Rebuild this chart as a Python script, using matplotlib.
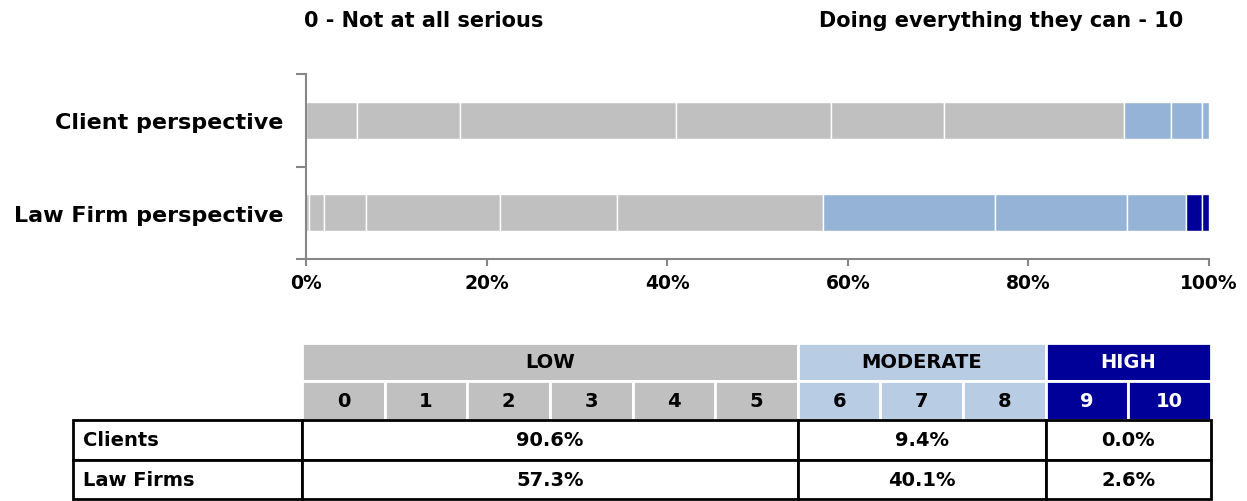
import matplotlib
matplotlib.use("Agg")
import matplotlib.pyplot as plt
from matplotlib.patches import Rectangle
import numpy as np

plt.rcParams['font.family'] = ['DejaVu Sans']

# ---------------- data ----------------
categories = ["Client perspective", "Law Firm perspective"]
scale_points = ["0", "1", "2", "3", "4", "5", "6", "7", "8", "9", "10"]
client_values = [5.6, 11.5, 23.9, 17.1, 12.5, 20.0, 5.2, 3.4, 0.8, 0.0, 0.0]
lawfirm_values = [0.3, 1.7, 4.6, 14.9, 12.9, 22.9, 19.0, 14.6, 6.5, 1.8, 0.8]
groups = ["LOW", "MODERATE", "HIGH"]
group_sizes = [6, 3, 2]
row_labels = ["Clients", "Law Firms"]
client_group_pct = ["90.6%", "9.4%", "0.0%"]
lawfirm_group_pct = ["57.3%", "40.1%", "2.6%"]
xtick_labels = ["0%", "20%", "40%", "60%", "80%", "100%"]

# ---------------- style ----------------
GRAY = "#C0C0C0"
LBLUE = "#95B3D7"
NAVY = "#000099"
HDR_LBLUE = "#B8CCE4"
seg_colors = [GRAY] * 6 + [LBLUE] * 3 + [NAVY] * 2
hdr_colors = [GRAY, HDR_LBLUE, NAVY]
hdr_text = ["black", "black", "white"]
AXCOL = "#868686"

W, H = 1247, 502
fig = plt.figure(figsize=(W / 100, H / 100), dpi=100)

# main bar axes (pixel layout)
L, R, T, B = 306, 1209, 75, 260
ax = fig.add_axes([L / W, 1 - B / H, (R - L) / W, (B - T) / H])

series = [client_values, lawfirm_values]
ypos = [0.5, 1.5]
for yi, vals in zip(ypos, series):
    left = 0.0
    for v, c in zip(vals, seg_colors):
        if v > 0:
            ax.barh(yi, v, left=left, height=0.4, color=c,
                    edgecolor="white", linewidth=1.0)
        left += v

ax.set_xlim(0, 100)
ax.set_ylim(2, 0)
ax.set_xticks(np.linspace(0, 100, len(xtick_labels)))
ax.set_xticklabels(xtick_labels, fontsize=13.5, fontweight="bold")
ax.set_yticks([0, 1, 2])
ax.set_yticklabels([])
ax.set_yticks(ypos, minor=True)
ax.set_yticklabels(categories, minor=True, fontsize=16, fontweight="bold")
ax.tick_params(axis="y", which="minor", length=0, pad=16)
ax.tick_params(axis="y", which="major", length=7, color=AXCOL, width=1.5)
ax.tick_params(axis="x", length=5, color=AXCOL, width=1.5, pad=5)
for s in ["top", "right"]:
    ax.spines[s].set_visible(False)
for s in ["left", "bottom"]:
    ax.spines[s].set_color(AXCOL)
    ax.spines[s].set_linewidth(1.5)

# titles
fig.text(304 / W, 1 - 21 / H, "0 - Not at all serious", ha="left", va="center",
         fontsize=15, fontweight="bold")
fig.text(1183 / W, 1 - 21 / H, "Doing everything they can - 10", ha="right",
         va="center", fontsize=15, fontweight="bold")

# ---------------- table (pixel overlay) ----------------
tax = fig.add_axes([0, 0, 1, 1])
tax.set_xlim(0, W)
tax.set_ylim(H, 0)
tax.axis("off")

tx0, tx1 = 302, 1211
cw = (tx1 - tx0) / len(scale_points)
row_y = [344, 382, 421, 461, 500]  # header1, header2, clients, lawfirms, bottom
lab_x0 = 73
FS = 14

# header row 1: groups
col = 0
for g, n, hc, tc in zip(groups, group_sizes, hdr_colors, hdr_text):
    x0 = tx0 + col * cw
    tax.add_patch(Rectangle((x0, row_y[0]), n * cw, row_y[1] - row_y[0],
                            facecolor=hc, edgecolor="white", linewidth=2))
    tax.text(x0 + n * cw / 2, (row_y[0] + row_y[1]) / 2, g, ha="center",
             va="center", fontsize=FS, fontweight="bold", color=tc)
    col += n

# header row 2: scale points
gi = np.repeat(np.arange(len(groups)), group_sizes)
for i, sp in enumerate(scale_points):
    x0 = tx0 + i * cw
    tax.add_patch(Rectangle((x0, row_y[1]), cw, row_y[2] - row_y[1],
                            facecolor=hdr_colors[gi[i]], edgecolor="white",
                            linewidth=2))
    tax.text(x0 + cw / 2, (row_y[1] + row_y[2]) / 2, sp, ha="center",
             va="center", fontsize=FS, fontweight="bold",
             color=hdr_text[gi[i]])

# data rows
for r, (lab, pcts) in enumerate(zip(row_labels, [client_group_pct, lawfirm_group_pct])):
    y0, y1 = row_y[2 + r], row_y[3 + r]
    tax.add_patch(Rectangle((lab_x0, y0), tx0 - lab_x0, y1 - y0,
                            facecolor="white", edgecolor="black", linewidth=2))
    tax.text(lab_x0 + 10, (y0 + y1) / 2, lab, ha="left", va="center",
             fontsize=FS, fontweight="bold")
    col = 0
    for p, n in zip(pcts, group_sizes):
        x0 = tx0 + col * cw
        tax.add_patch(Rectangle((x0, y0), n * cw, y1 - y0, facecolor="white",
                                edgecolor="black", linewidth=2))
        tax.text(x0 + n * cw / 2, (y0 + y1) / 2, p, ha="center",
                 va="center", fontsize=FS, fontweight="bold")
        col += n

fig.savefig("out.png", dpi=100)
